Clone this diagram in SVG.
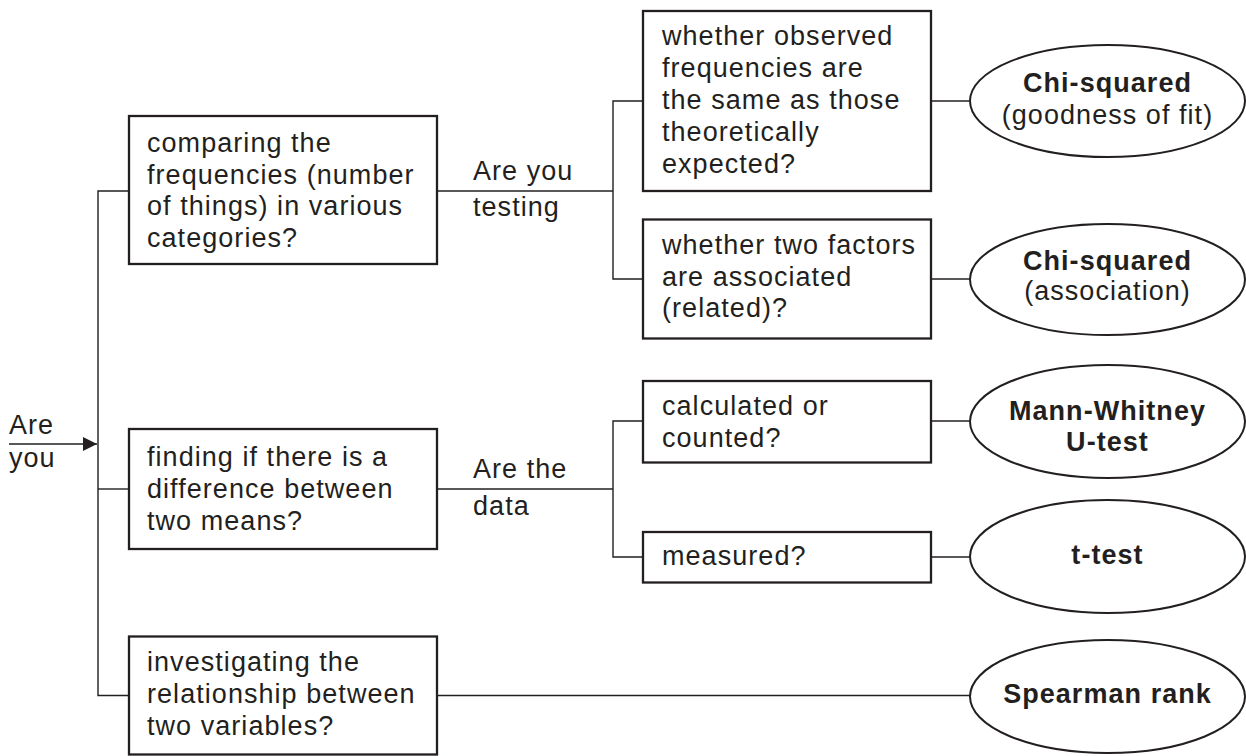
<svg xmlns="http://www.w3.org/2000/svg" width="1246" height="756" viewBox="0 0 1246 756">
<style>
text{font-family:"Liberation Sans",Arial,sans-serif;font-size:27px;letter-spacing:1.05px;fill:#231f20}
.b{font-weight:bold;text-anchor:middle}
.c{text-anchor:middle}
.box{fill:#fff;stroke:#231f20;stroke-width:2.3}
.ell{fill:#fff;stroke:#231f20;stroke-width:2}
.ln{fill:none;stroke:#231f20;stroke-width:1.4}
</style>
<defs>
<marker id="ah" markerWidth="14" markerHeight="14" refX="14" refY="7" orient="auto" markerUnits="userSpaceOnUse">
<path d="M0,0 L14,7 L0,14 Z" fill="#231f20"/>
</marker>
</defs>
<rect width="1246" height="756" fill="#fff"/>
<g id="connectors">
<line class="ln" x1="9" y1="444" x2="97" y2="444" marker-end="url(#ah)"/>
<path class="ln" d="M129,191 H98 V695.5 H129"/>
<line class="ln" x1="98" y1="489" x2="129" y2="489"/>
<path class="ln" d="M437,191 H613"/>
<path class="ln" d="M643,101 H613 V279 H643"/>
<path class="ln" d="M437,489 H613"/>
<path class="ln" d="M643,421 H613 V557 H643"/>
<line class="ln" x1="931" y1="101" x2="970" y2="101"/>
<line class="ln" x1="931" y1="279" x2="970" y2="279"/>
<line class="ln" x1="931" y1="421" x2="970" y2="421"/>
<line class="ln" x1="931" y1="557" x2="970" y2="557"/>
<line class="ln" x1="437" y1="695.5" x2="970" y2="695.5"/>
</g>
<g id="lbl-start">
<text x="9" y="434">Are</text>
<text x="9" y="467">you</text>
</g>
<g id="lbl-testing">
<text x="473" y="180">Are you</text>
<text x="473" y="216">testing</text>
</g>
<g id="lbl-data">
<text x="473" y="478">Are the</text>
<text x="473" y="515">data</text>
</g>
<g id="n-freq">
<rect class="box" x="129" y="116" width="308" height="148"/>
<text x="147" y="152">comparing the</text>
<text x="147" y="183.5">frequencies (number</text>
<text x="147" y="215">of things) in various</text>
<text x="147" y="247">categories?</text>
</g>
<g id="n-means">
<rect class="box" x="129" y="429" width="308" height="120"/>
<text x="147" y="465.5">finding if there is a</text>
<text x="147" y="497.5">difference between</text>
<text x="147" y="529.5">two means?</text>
</g>
<g id="n-rel">
<rect class="box" x="129" y="636.5" width="308" height="118"/>
<text x="147" y="671">investigating the</text>
<text x="147" y="703">relationship between</text>
<text x="147" y="734.5">two variables?</text>
</g>
<g id="n-observed">
<rect class="box" x="643" y="11" width="288" height="180"/>
<text x="662" y="45">whether observed</text>
<text x="662" y="77">frequencies are</text>
<text x="662" y="109">the same as those</text>
<text x="662" y="140.5">theoretically</text>
<text x="662" y="173">expected?</text>
</g>
<g id="n-assoc">
<rect class="box" x="643" y="219.5" width="288" height="119"/>
<text x="662" y="253.5">whether two factors</text>
<text x="662" y="286">are associated</text>
<text x="662" y="317">(related)?</text>
</g>
<g id="n-calc">
<rect class="box" x="643" y="381" width="288" height="81.5"/>
<text x="662" y="415">calculated or</text>
<text x="662" y="446.5">counted?</text>
</g>
<g id="n-measured">
<rect class="box" x="643" y="532" width="288" height="50.5"/>
<text x="662" y="565">measured?</text>
</g>
<g id="e-chi-fit">
<ellipse class="ell" cx="1107.5" cy="101" rx="137.5" ry="56"/>
<text class="b" x="1107.5" y="91.5">Chi-squared</text>
<text class="c" x="1107.5" y="123.5">(goodness of fit)</text>
</g>
<g id="e-chi-assoc">
<ellipse class="ell" cx="1107.5" cy="279.5" rx="137.5" ry="55.5"/>
<text class="b" x="1107.5" y="269.5">Chi-squared</text>
<text class="c" x="1107.5" y="300">(association)</text>
</g>
<g id="e-mann">
<ellipse class="ell" cx="1107.5" cy="421.5" rx="137.5" ry="56.5"/>
<text class="b" x="1107.5" y="420">Mann-Whitney</text>
<text class="b" x="1107.5" y="451">U-test</text>
</g>
<g id="e-ttest">
<ellipse class="ell" cx="1107.5" cy="556.5" rx="137.5" ry="56.5"/>
<text class="b" x="1107.5" y="563.5">t-test</text>
</g>
<g id="e-spearman">
<ellipse class="ell" cx="1107.5" cy="696.5" rx="137.5" ry="56.5"/>
<text class="b" x="1107.5" y="703">Spearman rank</text>
</g>
</svg>
